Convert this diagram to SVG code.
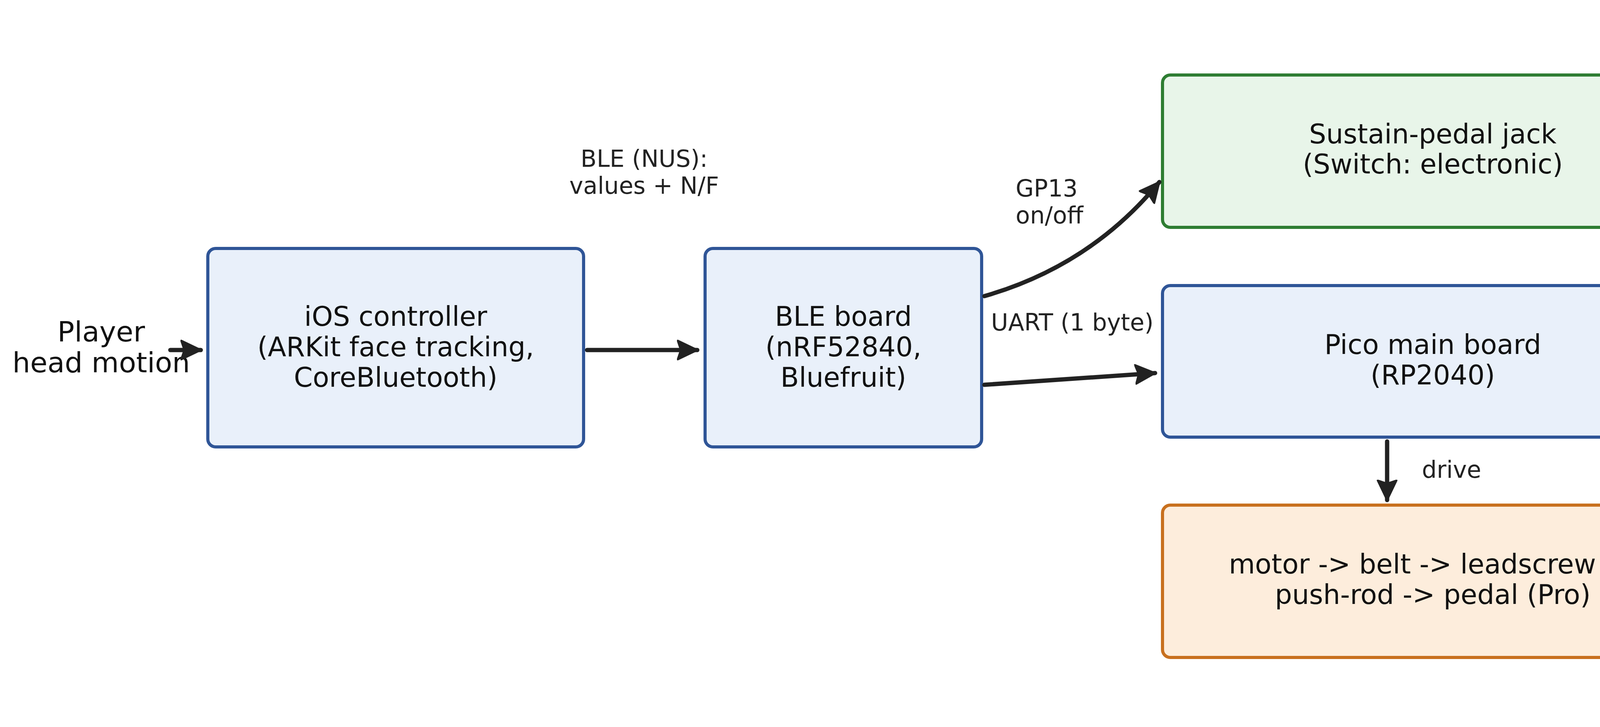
<svg xmlns="http://www.w3.org/2000/svg" width="4481" height="1861" viewBox="0 0 4481 1861">
<style>
text{font-family:"DejaVu Sans","Liberation Sans",sans-serif;fill:#111}
.n{font-size:69px;text-anchor:middle}
.e{font-size:60px;fill:#222}
.c{fill:none;stroke:#222;stroke-width:11;stroke-linecap:round}
.blue{fill:#E9F0FA;stroke:#2F5597;stroke-width:8}
.green{fill:#E8F5E9;stroke:#2E7D32;stroke-width:8}
.orange{fill:#FDEDDC;stroke:#C8701E;stroke-width:8}
</style>
<defs>
<marker id="a" markerUnits="userSpaceOnUse" markerWidth="70" markerHeight="70" refX="52" refY="28" orient="auto">
<path d="M2,4 L52,28 L2,52 L10,28 Z" fill="#222" stroke="#222" stroke-width="5" stroke-linejoin="round"/>
</marker>
</defs>
<rect width="4481" height="1861" fill="#fff"/>
<g id="player"><text x="259" y="874" style="font-size:72px;text-anchor:middle">Player</text><text x="259" y="953" style="font-size:72px;text-anchor:middle">head motion</text></g>
<g id="ios"><rect class="blue" x="532" y="636" width="962" height="508" rx="20"/>
<text class="n" x="1013" y="834">iOS controller</text><text class="n" x="1013" y="912">(ARKit face tracking,</text><text class="n" x="1013" y="990">CoreBluetooth)</text></g>
<g id="ble"><rect class="blue" x="1805" y="636" width="708" height="508" rx="20"/>
<text class="n" x="2159" y="834">BLE board</text><text class="n" x="2159" y="912">(nRF52840,</text><text class="n" x="2159" y="990">Bluefruit)</text></g>
<g id="sustain"><rect class="green" x="2976" y="192" width="1385" height="390" rx="20"/>
<text class="n" x="3668" y="367">Sustain-pedal jack</text><text class="n" x="3668" y="444">(Switch: electronic)</text></g>
<g id="pico"><rect class="blue" x="2976" y="731" width="1385" height="388" rx="20"/>
<text class="n" x="3668" y="906">Pico main board</text><text class="n" x="3668" y="984">(RP2040)</text></g>
<g id="motor"><rect class="orange" x="2976" y="1293" width="1385" height="390" rx="20"/>
<text class="n" x="3668" y="1468">motor -&gt; belt -&gt; leadscrew -&gt;</text><text class="n" x="3668" y="1546">push-rod -&gt; pedal (Pro)</text></g>
<g id="connectors">
<line class="c" x1="436" y1="896" x2="514" y2="896" marker-end="url(#a)"/>
<line class="c" x1="1503" y1="896" x2="1785" y2="896" marker-end="url(#a)"/>
<path class="c" d="M2520,758 Q2792,680 2968,466" marker-end="url(#a)"/>
<line class="c" x1="2520" y1="985" x2="2957" y2="955" marker-end="url(#a)"/>
<line class="c" x1="3551" y1="1130" x2="3551" y2="1280" marker-end="url(#a)"/>
<text class="e" x="1649" y="427" text-anchor="middle">BLE (NUS):</text><text class="e" x="1649" y="496" text-anchor="middle">values + N/F</text>
<text class="e" x="2600" y="503">GP13</text><text class="e" x="2600" y="572">on/off</text>
<text class="e" x="2537" y="846">UART (1 byte)</text>
<text class="e" x="3640" y="1223">drive</text>
</g>
</svg>
